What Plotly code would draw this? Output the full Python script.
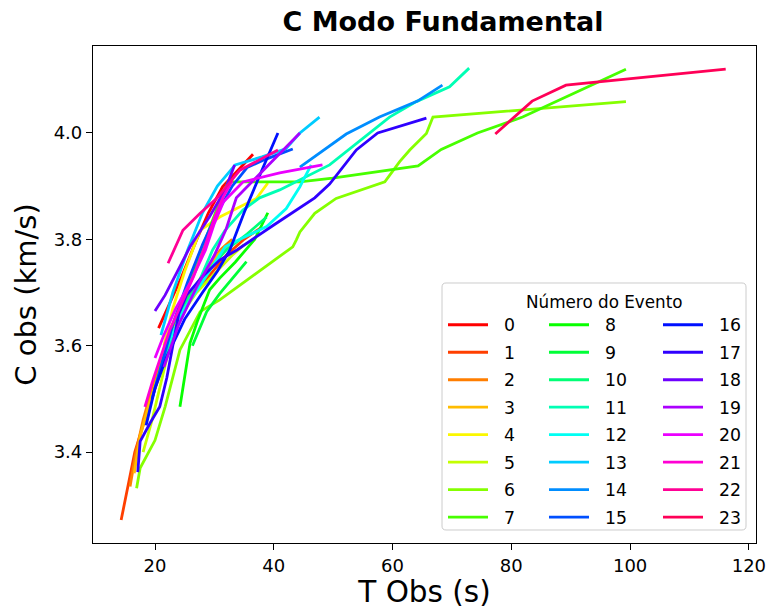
import numpy as np
import plotly.graph_objects as go

# ---------------- data ----------------
event_labels = [str(i) for i in range(24)]

t0 = [20.6, 22.5, 24.5, 27.0, 29.0, 31.4, 34.6, 36.5]
c0 = [3.633, 3.68, 3.73, 3.799, 3.85, 3.899, 3.937, 3.96]
t1 = [14.3, 15.3, 16.6, 18.0, 19.8, 21.5, 23.5, 26.0, 29.0, 32.0, 35.0, 38.0]
c1 = [3.272, 3.33, 3.40, 3.45, 3.51, 3.57, 3.63, 3.69, 3.73, 3.77, 3.80, 3.823]
t2 = [15.8, 16.8, 18.0, 19.5, 21.5, 23.5, 26.0, 28.5, 31.0, 33.0]
c2 = [3.335, 3.40, 3.46, 3.52, 3.59, 3.65, 3.70, 3.74, 3.78, 3.80]
t3 = [16.5, 17.5, 19.0, 21.0, 23.0, 25.5, 28.0, 30.5, 33.5]
c3 = [3.36, 3.43, 3.49, 3.56, 3.62, 3.68, 3.73, 3.77, 3.80]
t4 = [21.5, 23.0, 25.0, 27.6, 30.9, 34.0, 37.1, 39.0]
c4 = [3.60, 3.67, 3.74, 3.817, 3.842, 3.86, 3.877, 3.906]
t5 = [18.0, 19.5, 21.0, 22.5, 24.5, 27.0, 30.0, 33.0, 35.0]
c5 = [3.40, 3.46, 3.53, 3.60, 3.66, 3.70, 3.735, 3.77, 3.79]
t6 = [16.9, 17.5, 20.0, 21.7, 24.2, 27.6, 30.9, 37.0, 43.2, 43.8, 44.4, 46.9, 50.5,
      58.7, 61.2, 62.9, 65.7, 66.8, 99.3]
c6 = [3.332, 3.37, 3.422, 3.485, 3.592, 3.664, 3.686, 3.736, 3.786, 3.799, 3.814, 3.849,
      3.877, 3.908, 3.946, 3.968, 3.999, 4.03, 4.059]
t7 = [24.5, 26.5, 28.5, 30.5, 32.3, 40.0, 44.4, 49.9, 57.0, 64.3, 68.2, 74.3, 81.9, 99.3]
c7 = [3.68, 3.74, 3.80, 3.86, 3.908, 3.908, 3.908, 3.915, 3.926, 3.938, 3.969, 4.0, 4.03, 4.12]
t8 = [24.2, 25.9, 27.2, 29.2, 30.9, 33.5, 36.8, 38.2, 39.0]
c8 = [3.485, 3.605, 3.648, 3.705, 3.727, 3.757, 3.80, 3.83, 3.85]
t9 = [26.3, 27.6, 28.7, 30.9, 35.4]
c9 = [3.60, 3.636, 3.664, 3.698, 3.758]
t10 = [20.0, 21.5, 23.0, 25.0, 27.5, 30.0, 32.0, 35.5, 38.8]
c10 = [3.52, 3.58, 3.64, 3.68, 3.72, 3.755, 3.78, 3.81, 3.842]
t11 = [21.0, 24.0, 27.0, 29.7, 31.8, 34.8, 37.6, 41.0, 49.4, 59.5, 64.0, 69.6, 72.9]
c11 = [3.56, 3.65, 3.71, 3.78, 3.817, 3.855, 3.878, 3.893, 3.94, 4.03, 4.059, 4.087, 4.122]
t12 = [22.0, 25.0, 28.0, 31.8, 34.3, 38.8, 42.1, 44.4, 46.3]
c12 = [3.60, 3.67, 3.72, 3.786, 3.80, 3.824, 3.858, 3.899, 3.94]
t13 = [21.0, 23.0, 25.5, 28.0, 30.5, 33.5, 38.0, 42.0, 44.4, 47.7]
c13 = [3.62, 3.70, 3.78, 3.85, 3.90, 3.94, 3.955, 3.97, 4.0, 4.03]
t14 = [44.4, 48.0, 52.2, 57.8, 64.2, 68.4]
c14 = [3.936, 3.965, 3.998, 4.03, 4.06, 4.09]
t15 = [19.5, 21.0, 23.0, 25.5, 28.0, 30.5, 33.0, 35.5, 38.5, 43.2]
c15 = [3.50, 3.56, 3.64, 3.72, 3.79, 3.85, 3.90, 3.935, 3.95, 3.97]
t16 = [18.5, 20.0, 22.0, 25.0, 28.0, 30.5, 32.6, 35.0, 38.0, 40.7]
c16 = [3.45, 3.52, 3.58, 3.65, 3.70, 3.74, 3.78, 3.85, 3.93, 4.0]
t17 = [17.1, 17.5, 19.2, 20.8, 22.0, 23.0, 24.0, 25.3, 28.0, 30.9, 33.8, 40.0, 46.9,
       49.4, 53.9, 57.5, 62.0, 65.7]
c17 = [3.362, 3.42, 3.455, 3.485, 3.54, 3.60, 3.66, 3.695, 3.73, 3.761, 3.78, 3.827,
       3.878, 3.904, 3.968, 4.0, 4.015, 4.028]
t18 = [20.0, 21.7, 23.6, 25.9, 29.2, 31.8, 33.4]
c18 = [3.665, 3.695, 3.736, 3.786, 3.843, 3.893, 3.94]
t19 = [21.5, 24.0, 27.0, 30.0, 32.0, 33.7, 38.0, 44.4]
c19 = [3.56, 3.64, 3.71, 3.77, 3.82, 3.878, 3.927, 4.0]
t20 = [20.0, 21.5, 23.5, 26.0, 28.5, 30.0, 31.5, 34.8, 41.0, 48.2]
c20 = [3.577, 3.62, 3.67, 3.72, 3.78, 3.83, 3.87, 3.908, 3.925, 3.94]
t21 = [18.3, 19.5, 21.0, 22.5, 24.5, 26.5, 28.5, 30.0, 31.5, 33.0]
c21 = [3.485, 3.53, 3.58, 3.63, 3.68, 3.73, 3.79, 3.84, 3.88, 3.91]
t22 = [22.2, 24.7, 27.6, 30.4, 34.3, 40.7]
c22 = [3.755, 3.817, 3.849, 3.877, 3.93, 3.968]
t23 = [77.3, 83.5, 89.2, 116.1]
c23 = [3.998, 4.06, 4.09, 4.12]

T_all = [t0, t1, t2, t3, t4, t5, t6, t7, t8, t9, t10, t11,
         t12, t13, t14, t15, t16, t17, t18, t19, t20, t21, t22, t23]
C_all = [c0, c1, c2, c3, c4, c5, c6, c7, c8, c9, c10, c11,
         c12, c13, c14, c15, c16, c17, c18, c19, c20, c21, c22, c23]

x_ticks = [20, 40, 60, 80, 100, 120]
y_ticks = [3.4, 3.6, 3.8, 4.0]


# ---------------- colours: matplotlib "hsv" colormap ----------------
def mpl_hsv(v):
    r = np.interp(v, [0, 0.158730, 0.174603, 0.333333, 0.349206, 0.666667, 0.682540, 0.841270, 0.857143, 1],
                  [1, 1, 0.96875, 0.03125, 0, 0, 0.03125, 0.96875, 1, 1])
    g = np.interp(v, [0, 0.158730, 0.174603, 0.507937, 0.666667, 0.682540, 1],
                  [0, 0.9375, 1, 1, 0.0625, 0, 0])
    b = np.interp(v, [0, 0.333333, 0.349206, 0.507937, 0.841270, 0.857143, 1],
                  [0, 0, 0.0625, 1, 1, 0.9375, 0.09375])
    return "rgb(%d,%d,%d)" % (round(r * 255), round(g * 255), round(b * 255))


n = len(event_labels)
colors = [mpl_hsv(i / n) for i in range(n)]

FONT = "DejaVu Sans"
fig = go.Figure()
legend_names = ["legend", "legend2", "legend3"]
for i in range(n):
    fig.add_trace(go.Scatter(
        x=T_all[i], y=C_all[i], mode="lines",
        name="\u2007" + event_labels[i],
        line=dict(color=colors[i], width=2.8),
        legend=legend_names[i // 8], legendgroup=event_labels[i],
    ))

# plot area in pixels: x 93..756, y 46..543 of a 769x609 canvas
W, H = 769, 609
L, R, TOP, BOT = 93, 13, 46, 66
pw, ph = W - L - R, H - TOP - BOT


def px_x(p):
    return (p - L) / pw


def px_y(p):
    return (H - BOT - p) / ph


leg_common = dict(
    xanchor="left", yanchor="top", bgcolor="rgba(0,0,0,0)", borderwidth=0,
    font=dict(family=FONT, size=17.3, color="black"), traceorder="grouped",
    tracegroupgap=2, itemwidth=40, itemclick=False, itemdoubleclick=False,
)
col_px = [443, 544, 658]
legend_top = 307

fig.update_layout(
    width=W, height=H,
    margin=dict(l=L, r=R, t=TOP, b=BOT, autoexpand=False),
    paper_bgcolor="white", plot_bgcolor="white",
    font=dict(family=FONT, size=17.3, color="black"),
    title=dict(text="<b>C Modo Fundamental</b>", x=px_x(443), xref="paper", xanchor="center",
               y=1 - 22 / H, yref="container", yanchor="middle",
               font=dict(family=FONT, size=27, color="black")),
    xaxis=dict(range=[9.56, 121.2], tickvals=x_ticks, ticktext=[str(v) for v in x_ticks],
               ticks="outside", ticklen=6, tickwidth=1.2, tickcolor="black",
               showline=True, linecolor="black", linewidth=1.2, mirror=True,
               showgrid=False, zeroline=False,
               tickfont=dict(family=FONT, size=18, color="black"),
               title=dict(text="T Obs (s)", standoff=6,
                          font=dict(family=FONT, size=29.5, color="black"))),
    yaxis=dict(range=[3.2289, 4.1636], tickvals=y_ticks, ticktext=["%.1f" % v for v in y_ticks],
               ticks="outside", ticklen=6, tickwidth=1.2, tickcolor="black",
               showline=True, linecolor="black", linewidth=1.2, mirror=True,
               showgrid=False, zeroline=False,
               tickfont=dict(family=FONT, size=18, color="black"),
               title=dict(text="C obs (km/s)", standoff=8,
                          font=dict(family=FONT, size=29, color="black"))),
    legend=dict(x=px_x(col_px[0]), y=px_y(legend_top), **leg_common),
    legend2=dict(x=px_x(col_px[1]), y=px_y(legend_top), **leg_common),
    legend3=dict(x=px_x(col_px[2]), y=px_y(legend_top), **leg_common),
    showlegend=True,
)

# legend frame (rounded corners) and title
bx0, bx1, by0, by1, rad = 442, 746, 283, 530, 4
pts = [
    ("M", bx0 + rad, by0), ("L", bx1 - rad, by0), ("Q", bx1, by0, bx1, by0 + rad),
    ("L", bx1, by1 - rad), ("Q", bx1, by1, bx1 - rad, by1), ("L", bx0 + rad, by1),
    ("Q", bx0, by1, bx0, by1 - rad), ("L", bx0, by0 + rad), ("Q", bx0, by0, bx0 + rad, by0),
]
path = ""
for seg in pts:
    cmd, coords = seg[0], seg[1:]
    pairs = []
    for k in range(0, len(coords), 2):
        pairs.append("%.5f,%.5f" % (px_x(coords[k]), px_y(coords[k + 1])))
    path += cmd + " ".join(pairs) + " "
path += "Z"
fig.add_shape(type="path", xref="paper", yref="paper", path=path,
              line=dict(color="#cccccc", width=1), fillcolor="rgba(255,255,255,0.8)",
              layer="above")
fig.add_annotation(text="Número do Evento", xref="paper", yref="paper",
                   x=px_x(604), y=px_y(302), xanchor="center", yanchor="middle",
                   showarrow=False, font=dict(family=FONT, size=16.8, color="black"))

fig.write_html("out.html", config={"displayModeBar": False},
               post_script="document.body.style.margin='0';")
